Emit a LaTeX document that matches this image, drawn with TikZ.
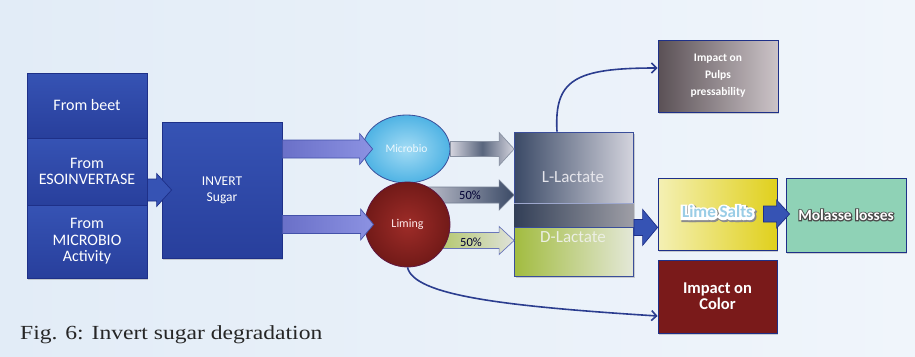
\documentclass[tikz,border=0pt]{standalone}
\usepackage{graphicx}
\usepackage{fontspec}
\setmainfont{Carlito}
\newfontfamily\capfont{Liberation Serif}
\usetikzlibrary{arrows.meta,calc,shadows,shapes.geometric}
\definecolor{bgl}{HTML}{E2ECF7}\definecolor{bgr}{HTML}{F0F5FB}
\definecolor{blueA}{HTML}{3653B4}\definecolor{blueB}{HTML}{283F9C}\definecolor{blueline}{HTML}{1E3088}
\definecolor{lilacA}{HTML}{6A70C8}\definecolor{lilacB}{HTML}{8C92E2}\definecolor{lilacline}{HTML}{4452AA}
\definecolor{slateA}{HTML}{3B4A66}\definecolor{slateB}{HTML}{D4D4DE}\definecolor{slateline}{HTML}{3A4E9A}
\definecolor{greenA}{HTML}{A2BC40}\definecolor{greenB}{HTML}{E4E8D8}
\definecolor{cyanA}{HTML}{A4DCF5}\definecolor{cyanB}{HTML}{4FB3E4}
\definecolor{redA}{HTML}{9E2C28}\definecolor{redB}{HTML}{721A18}
\definecolor{navy}{HTML}{2B3D8F}\definecolor{limered}{HTML}{7A1A1A}
\definecolor{yelA}{HTML}{F4F0B4}\definecolor{yelB}{HTML}{E0D01C}\definecolor{mint}{HTML}{8FD2B6}
\definecolor{pulpA}{HTML}{5A5055}\definecolor{pulpB}{HTML}{CCC4C8}
\definecolor{saltblue}{HTML}{9ACDE6}
\tikzset{
  box/.style={draw=#1,line width=.8pt,inner sep=0pt,minimum width=120pt,align=center,text=white,
    drop shadow={shadow xshift=1pt,shadow yshift=-1.5pt,opacity=.35}},
  bluebox/.style={box=blueline,top color=blueA,bottom color=blueB,font=\fontsize{16}{16.5}\selectfont},
  arrowline/.style={draw=#1,line width=.7pt},
  curvearrow/.style={navy,line width=1.6pt,-{Straight Barb[length=5pt,width=10pt]}},
  lacttext/.style={font=\fontsize{17}{18}\selectfont,inner sep=0pt},
  limetext/.style={font=\bfseries\fontsize{17}{18}\selectfont,inner sep=0pt},
  moltext/.style={font=\bfseries\fontsize{15.5}{16}\selectfont,inner sep=0pt}
}
% horizontal block arrow: style, tail, tip, half shaft, half head, head length
\newcommand\blockarrow[6][]{\path[#1] let \p1=#2, \p2=#3 in (\x1,\y1+#4pt) -- (\x2-#6pt,\y1+#4pt) -- (\x2-#6pt,\y1+#5pt) -- (\x2,\y1) -- (\x2-#6pt,\y1-#5pt) -- (\x2-#6pt,\y1-#4pt) -- (\x1,\y1-#4pt) -- cycle;}
\begin{document}
\begin{tikzpicture}[x=1pt,y=-1pt]
\useasboundingbox (0,0) rectangle (915,356);
\shade[left color=bgl,right color=bgr] (0,0) rectangle (915,356);
% sources
\node[bluebox,minimum height=65pt] (beet) at (87,105.5) {From beet};
\node[bluebox,minimum height=67pt] (esoinv) at (87,171.5) {From\\ESOINVERTASE};
\node[bluebox,minimum height=73pt] (microact) at (87,241.5) {From\\MICROBIO\\Activity};
\node[bluebox,minimum height=136pt,font=\fontsize{13.5}{16}\selectfont] (invert) at (222,190) {INVERT\\Sugar};
\blockarrow[arrowline=blueline,fill=blueA]{(esoinv.east |- invert.west)}{([xshift=10pt]invert.west)}{11}{16.5}{15}
% lactates
\node[box=slateline,minimum width=119pt,minimum height=95pt,left color=slateA,right color=slateB] (llact) at (574,179.5) {};
\shade[left color=slateA!85!black,right color=slateB!75!black] ([yshift=24pt]llact.south west) rectangle (llact.south east);
\draw[slateline!50,line width=.5pt] ([yshift=24pt]llact.south west) -- ([yshift=24pt]llact.south east);
\node[box=slateline,minimum width=119pt,minimum height=49pt,left color=greenA,right color=greenB] (dlact) at (574,251.5) {};
\node[lacttext,text=slateB!60!white] (ltxt) at (573,177) {L-Lactate};
\node[lacttext,text=greenB!70!white] (dtxt) at (573,237) {D-Lactate};
% 50% arrows behind liming
\coordinate (limc) at (407.5,224.5);
\blockarrow[arrowline=slateA!70,left color=slateB,right color=slateA]{([yshift=29.5pt]limc)}{(llact.west)}{8}{15}{15}
\blockarrow[arrowline=lilacline!80,left color=greenA,right color=greenB!70!slateB]{([yshift=-16pt]limc)}{(dlact.west)}{8}{14}{15}
\node[font=\fontsize{12.5}{14}\selectfont,text=black!80!blue] (pa) at (470,195) {50\%};
\node[font=\fontsize{12.5}{14}\selectfont,text=black!80!blue] (pb) at (471,242) {50\%};
% circles
\node[ellipse,draw=slateline,line width=.8pt,minimum width=87pt,minimum height=68pt,inner color=cyanA,outer color=cyanB,
  font=\fontsize{11.5}{14}\selectfont,text=white!92!cyan] (micro) at (406.5,149) {Microbio};
\node[circle,draw=blueline!60!red!80!black,line width=.8pt,minimum size=85pt,inner color=redA,outer color=redB,
  font=\fontsize{12}{14}\selectfont,text=red!8!white] (liming) at (limc) {Liming};
\blockarrow[arrowline=lilacline,left color=lilacA,right color=lilacB]{(invert.east |- micro.west)}{([xshift=10pt]micro.west)}{9}{15.5}{13}
\blockarrow[arrowline=lilacline,left color=lilacA,right color=lilacB]{(invert.east |- liming.west)}{([xshift=9pt]liming.west)}{9}{15.5}{13}
\blockarrow[arrowline=slateA!60,left color=slateB,right color=slateB,middle color=slateA!85]{(micro.east)}{(llact.west)}{7.5}{16.5}{15}
% effects
\node[box=blueline,minimum width=120pt,minimum height=72pt,left color=pulpA,right color=pulpB,font=\bfseries\fontsize{11.5}{17}\selectfont] (pulps) at (718,76) {Impact on\\Pulps\\pressability};
\node[box=blueline,minimum width=119pt,minimum height=72pt,left color=yelA,right color=yelB] (lime) at (717.5,214) {};
\node[box=blueline,minimum width=120pt,minimum height=74pt,fill=mint] (molasse) at (846,215) {};
\node[box=blueline,minimum width=119pt,minimum height=73pt,fill=limered,font=\bfseries\fontsize{16.5}{16}\selectfont] (color) at (717.5,296.5) {Impact on\\Color};
\blockarrow[arrowline=blueline,fill=blueA]{(llact.south east)}{(lime.west)}{8}{18}{15}
% word-art labels: emboldened copies give the outline
\coordinate (limec) at ([yshift=2pt]lime.center);
\node[limetext,text=black!45] (limeshade) at ([shift={(1.2pt,-1.4pt)}]limec) {\addfontfeature{FakeBold=32}Lime Salts};
\node[limetext,text=white] (limehalo) at (limec) {\addfontfeature{FakeBold=26}Lime Salts};
\node[limetext,text=saltblue] (limetxt) at (limec) {Lime Salts};
\blockarrow[arrowline=blueline,fill=blueA]{([xshift=-14pt]lime.east)}{([xshift=4pt]molasse.west)}{8}{14}{13}
\node[moltext,text=black!70] (molo) at (molasse.center) {\addfontfeature{FakeBold=13}Molasse losses};
\node[moltext,text=white] (moltxt) at (molasse.center) {Molasse losses};
% curved connectors
\draw[curvearrow] ([xshift=-17pt]llact.north) .. controls ([xshift=-20pt,yshift=52pt]llact.north) and (575,68) .. ([yshift=8pt]pulps.west);
\draw[curvearrow] (liming.south) .. controls (414,295) and (500,306) .. ([yshift=-19.5pt]color.west);
% caption
\node[anchor=base west,inner sep=0pt,font=\capfont\fontsize{20}{24}\selectfont,text=black!85] (caption) at (20,339) {\scalebox{1.18}[1]{Fig. 6: Invert sugar degradation}};
\end{tikzpicture}
\end{document}
